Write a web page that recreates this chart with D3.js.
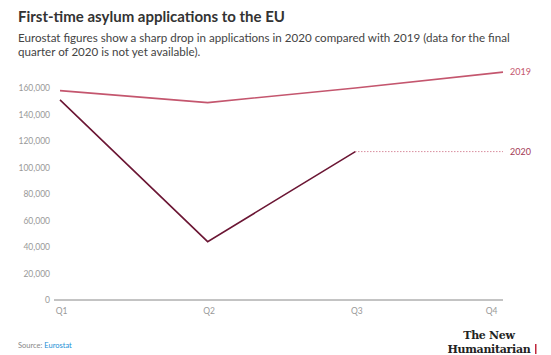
<!DOCTYPE html>
<html>
<head>
<meta charset="utf-8">
<script src="https://cdn.jsdelivr.net/npm/d3@7"></script>
<style>
body{margin:0;background:#fff;}
svg{font-family:Lato,"Open Sans",sans-serif;}
</style>
</head>
<body>
<div id="chart"></div>
<script>
var WIDTH=551, HEIGHT=355;

// data
var quarters=["Q1","Q2","Q3","Q4"];
var values2019=[158000,149000,160000,172000];
var values2020=[151000,44000,112000];
var yTicks=[0,20000,40000,60000,80000,100000,120000,140000,160000];

var C2019="#c4566e", C2020="#6b1634";

var svg=d3.select("#chart").append("svg")
  .attr("width",WIDTH).attr("height",HEIGHT);

//Titulo
svg.append("text").attr("x",18).attr("y",22)
  .style("font-size","15px").style("font-weight","bold").style("fill","#333")
  .text("First-time asylum applications to the EU");

svg.append("text").attr("x",18).attr("y",42)
  .style("font-size","11.6px").style("fill","#444")
  .text("Eurostat figures show a sharp drop in applications in 2020 compared with 2019 (data for the final");
svg.append("text").attr("x",18).attr("y",56)
  .style("font-size","11.6px").style("fill","#444")
  .text("quarter of 2020 is not yet available).");

//Escalas
var scaleX=d3.scalePoint().domain(quarters).range([60,503]);
var scaleY=d3.scaleLinear().domain([0,160000]).range([300,88]);

//Eje y (solo etiquetas)
var yAxis=svg.append("g").attr("transform","translate(54,0)")
  .call(d3.axisLeft(scaleY).tickValues(yTicks).tickSize(0).tickPadding(4)
    .tickFormat(d3.format(",")));
yAxis.select(".domain").remove();
yAxis.selectAll("text").style("font-family","Lato,sans-serif").style("font-size","8.5px").style("fill","#999");

//Linea base
svg.append("line").attr("x1",54).attr("x2",503)
  .attr("y1",scaleY(0)).attr("y2",scaleY(0))
  .style("stroke","#888").style("stroke-width",1);

//Eje x
var xAxis=svg.append("g").attr("transform","translate(0,"+scaleY(0)+")")
  .call(d3.axisBottom(scaleX).tickSize(0).tickPadding(8));
xAxis.select(".domain").remove();
xAxis.selectAll("text").style("font-family","Lato,sans-serif").style("font-size","8.5px").style("fill","#999")
  .attr("text-anchor",function(d,i){return i==quarters.length-1?"end":"middle"})
  .attr("dx",function(d,i){return i==quarters.length-1?"-6":"1"});

var line=d3.line()
  .x(function(d,i){return scaleX(quarters[i])})
  .y(function(d){return scaleY(d)});

svg.append("path").datum(values2019).attr("d",line)
  .style("fill","none").style("stroke",C2019).style("stroke-width",1.6);

svg.append("path").datum(values2020).attr("d",line)
  .style("fill","none").style("stroke",C2020).style("stroke-width",1.6);

//Linea punteada (Q4 2020 sin datos)
var last=values2020[values2020.length-1];
svg.append("line")
  .attr("x1",scaleX(quarters[2])).attr("x2",scaleX(quarters[3]))
  .attr("y1",scaleY(last)).attr("y2",scaleY(last))
  .style("stroke",C2019).style("stroke-width",1).style("stroke-dasharray","1,2");

//Etiquetas de series
svg.append("text").attr("x",510).attr("y",scaleY(values2019[3])+3)
  .style("font-size","9px").style("fill",C2019).text("2019");
svg.append("text").attr("x",510).attr("y",scaleY(last)+3)
  .style("font-size","9px").style("fill","#a33a55").text("2020");

//Fuente
var src=svg.append("text").attr("x",18).attr("y",348)
  .style("font-size","7.5px").style("fill","#888");
src.append("tspan").text("Source: ");
src.append("tspan").style("fill","#1a8fd6").text("Eurostat");

//Logo
svg.append("text").attr("x",489).attr("y",339).attr("text-anchor","middle")
  .style("font-family","'DejaVu Serif',serif").style("font-weight","bold")
  .style("font-size","11px").style("letter-spacing","-0.3px").style("fill","#222").text("The New");
svg.append("text").attr("x",489).attr("y",353).attr("text-anchor","middle")
  .style("font-family","'DejaVu Serif',serif").style("font-weight","bold")
  .style("font-size","11px").style("letter-spacing","-0.3px").style("fill","#222").text("Humanitarian");
svg.append("rect").attr("x",535).attr("y",344).attr("width",1.5).attr("height",10)
  .style("fill","#c0283c");
</script>
</body>
</html>
